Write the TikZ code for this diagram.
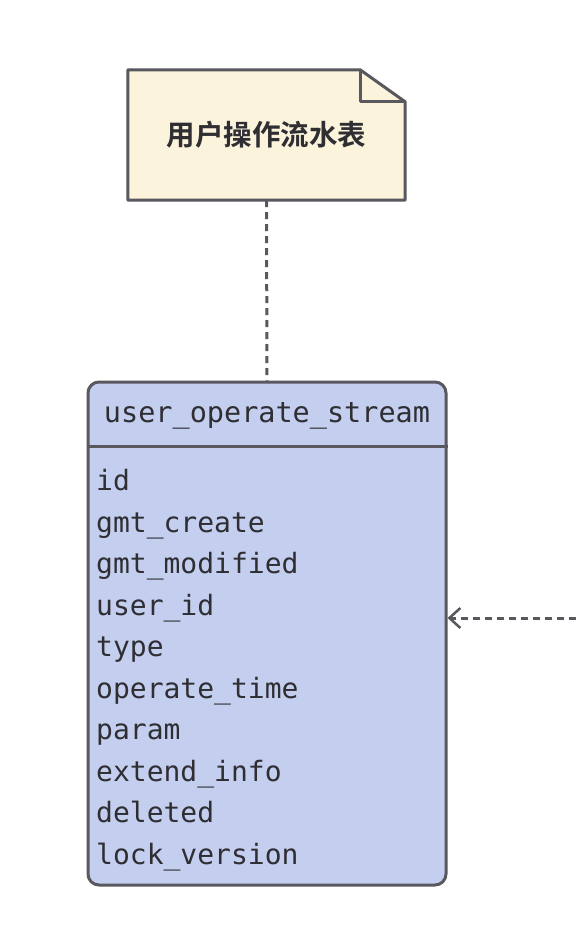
\documentclass[tikz,border=0pt]{standalone}
\usepackage{fontspec}
\setmonofont{DejaVu Sans Mono}
\newfontfamily\cjkfont{Noto Sans CJK SC}[BoldFont={Noto Sans CJK SC Bold}]
\usetikzlibrary{arrows.meta,positioning,calc}

\definecolor{notefill}{HTML}{FBF3DC}
\definecolor{tablefill}{HTML}{C4CEEF}
\definecolor{edge}{HTML}{58585E}
\definecolor{ink}{HTML}{2E2E33}

\begin{document}
\begin{tikzpicture}[
        x=1pt, y=1pt,
        notebox/.style={rectangle, draw=none, minimum width=277pt, minimum height=130pt,
                        inner sep=0pt, font=\cjkfont\bfseries\fontsize{28.5}{32}\selectfont, text=ink},
        tablebox/.style={rectangle, rounded corners=11pt, draw=edge, line width=3pt,
                         fill=tablefill, minimum width=358pt, minimum height=503pt, inner sep=0pt},
        title/.style={font=\ttfamily\fontsize{28.5}{32}\selectfont, text=ink, inner sep=0pt},
        field/.style={font=\ttfamily\fontsize{28}{32}\selectfont, text=ink, inner sep=0pt,
                      anchor=west, text height=0.75em, text depth=0.25em},
        link/.style={edge, line width=3pt, dash pattern=on 7pt off 5pt},
        dep/.style={link, -{Straight Barb[length=11pt, width=20pt, line width=2.5pt]}}
    ]
    \useasboundingbox (0,0) rectangle (576,-930);

    %--- note with folded corner ---
    \node[notebox] (note) at (266.5,-135) {用户操作流水表};
    \draw[edge, line width=3pt, fill=notefill, line join=round]
        (note.north west) -- ($(note.north east)+(-45,0)$) -- ($(note.north east)+(0,-32)$)
        -- (note.south east) -- (note.south west) -- cycle;
    \draw[edge, line width=3pt, line join=round]
        ($(note.north east)+(-45,0)$) -- ($(note.north east)+(-45,-32)$) -- ($(note.north east)+(0,-32)$);
    \node[notebox] at (note) {用户操作流水表};

    %--- table ---
    \node[tablebox] (tbl) at (267,-633.5) {};
    \draw[edge, line width=3pt] ($(tbl.north west)+(0,-66)$) coordinate (sepL) -- (sepL -| tbl.east);
    \node[title] (name) at (267,-416) {user\_operate\_stream};

    \foreach \f [count=\i from 0] in {id, gmt\_create, gmt\_modified, user\_id, type,
            operate\_time, param, extend\_info, deleted, lock\_version}
        \node[field] (f\i) at (96,-488-41.5*\i) {\f};

    %--- connectors ---
    \draw[link] (note.south) -- (tbl.north);
    \coordinate (src) at (576,-618);
    \draw[dep] (src) -- (src -| tbl.east);
\end{tikzpicture}
\end{document}
